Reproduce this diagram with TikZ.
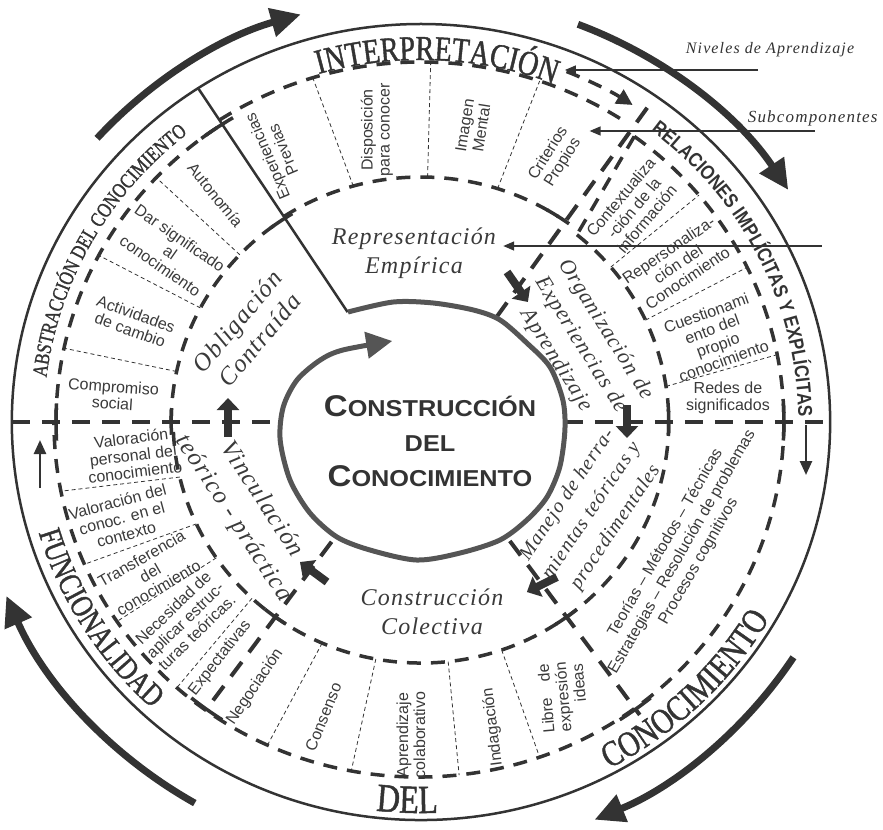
\documentclass[tikz,border=0pt]{standalone}
\usepackage{fontspec}
\setmainfont{Liberation Serif}
\setsansfont{Liberation Sans}
\newfontfamily\capserif[FakeStretch=0.8, FakeBold=1.2]{Liberation Serif}
\newfontfamily\relfont[FakeStretch=0.85]{Liberation Sans Bold}
\newfontfamily\corefont[FakeStretch=1.1]{Liberation Sans Bold}
\newfontfamily\quadfont[LetterSpace=5]{Liberation Serif}
\newfontfamily\notefont[LetterSpace=7]{Liberation Serif}
\usetikzlibrary{arrows.meta,decorations.text}
\definecolor{dk}{HTML}{333333}
\definecolor{md}{HTML}{3A3A3A}
\definecolor{ring}{HTML}{555555}

\begin{document}
\begin{tikzpicture}[x=1.028pt, y=1pt,
	frame/.style={dk, line width=2.5pt},
	boxarc/.style={dk, line width=3.5pt, dash pattern=on 14pt off 10pt},
	divider/.style={dk, line width=4pt, dash pattern=on 18pt off 12pt},
	sep/.style={dk, line width=0.8pt, dash pattern=on 4pt off 3pt},
	tickmark/.style={dk, line width=3.5pt},
	flowarrow/.style={dk, line width=8pt, -{Triangle[length=12pt,width=22pt]}},
	bigarrow/.style={dk, line width=7pt, -{Triangle[length=30pt,width=28pt]}},
	smallarrow/.style={dk, line width=2.5pt, -{Triangle[length=14pt,width=12pt]}},
	noteline/.style={dk, line width=1.5pt, -{Triangle[length=11pt,width=9pt]}},
	spiral/.style={ring, line width=5pt, -{Triangle[length=26pt,width=26pt]}},
	subtext/.style={font=\sffamily\fontsize{16}{17}\selectfont, text=md, align=center, inner sep=0pt},
	quadtext/.style={font=\quadfont\itshape\fontsize{#1}{29}\selectfont, text=md, align=center, inner sep=0pt},
	notetext/.style={font=\notefont\itshape\fontsize{#1}{#1}\selectfont, text=dk, inner sep=0pt},
	coretext/.style={font=\corefont\fontsize{23}{35}\selectfont, text=dk, align=center, inner sep=0pt}]
			\useasboundingbox (-409.5,-407) rectangle (449.4,422);
			\draw[frame] (0,0) circle[radius=398];
			\draw[bigarrow] (138:424) arc[start angle=138, end angle=106, radius=424];
			\draw[bigarrow] (69:426) arc[start angle=69, end angle=33, radius=426];
			\draw[bigarrow] (-33:432) arc[start angle=-33, end angle=-67, radius=432];
			\draw[bigarrow] (-120:440) arc[start angle=-120, end angle=-157, radius=436];
			\draw[frame] (123:131) -- (123:398);
			\draw[divider] (55:128) -- (55:393);
			\draw[divider] (-54:147) -- (-54:362);
			\draw[divider] (-126:148) -- (-126:356);
			\draw[divider] (-398,0) -- (-137,0);
			\draw[divider] (140,0) -- (398,0);
			\draw[boxarc] (180:355) arc[start angle=180, end angle=124, radius=355];
			\draw[boxarc] (180:243) arc[start angle=180, end angle=124, radius=243];
			\draw[boxarc] (123:360) arc[start angle=123, end angle=57, radius=360];
			\draw[boxarc] (123:245) arc[start angle=123, end angle=57, radius=245];
			\draw[boxarc] (54:353) arc[start angle=54, end angle=0, radius=353];
			\draw[boxarc] (51:241) arc[start angle=51, end angle=0, radius=241];
			\draw[boxarc] (54:353) -- (51:241);
			\draw[boxarc] (0:353) arc[start angle=0, end angle=-180, radius=355];
			\draw[boxarc] (0:241) arc[start angle=0, end angle=-180, radius=241];
			\draw[boxarc, -{Triangle[length=16pt,width=16pt]}] (68:378) arc[start angle=68, end angle=57, radius=378];
			\draw[tickmark] (183:355) arc[start angle=183, end angle=177, radius=355];
			\draw[tickmark] (183:243) arc[start angle=183, end angle=177, radius=243];
			\draw[tickmark] (127:355) arc[start angle=127, end angle=121, radius=355];
			\draw[tickmark] (127:243) arc[start angle=127, end angle=121, radius=243];
			\draw[tickmark] (60:245) arc[start angle=60, end angle=54, radius=245];
			\draw[tickmark] (3:353) arc[start angle=3, end angle=-3, radius=353];
			\draw[tickmark] (3:241) arc[start angle=3, end angle=-3, radius=241];
			\draw[tickmark] (-51:355) arc[start angle=-51, end angle=-57, radius=355];
			\draw[tickmark] (-51:241) arc[start angle=-51, end angle=-57, radius=241];
			\draw[tickmark] (-123:355) arc[start angle=-123, end angle=-129, radius=355];
			\draw[tickmark] (-123:241) arc[start angle=-123, end angle=-129, radius=241];
			\draw[sep] (168:243) -- (168:355);
			\draw[sep] (152:243) -- (152:355);
			\draw[sep] (136.5:243) -- (136.5:355);
			\draw[sep] (105.6:245) -- (107:360);
			\draw[sep] (88.5:245) -- (88.5:360);
			\draw[sep] (72.3:245) -- (71.3:360);
			\draw[sep] (40:241) -- (40:353);
			\draw[sep] (25:241) -- (26:353);
			\draw[sep] (8.5:241) -- (11:353);
			\draw[sep] (-71:241) -- (-71:355);
			\draw[sep] (-83.7:241) -- (-84:355);
			\draw[sep] (-100.5:241) -- (-101:355);
			\draw[sep] (-113.5:241) -- (-114.8:355);
			\draw[sep] (-166.8:241) -- (-168.8:355);
			\draw[sep] (-155:241) -- (-156.5:355);
			\draw[sep] (-145.7:241) -- (-146:355);
			\draw[sep] (-133:241) -- (-131.8:355);
			\draw[flowarrow] (-187.7,-15) -- (-187.7,24);
			\draw[flowarrow] (83.7,150) -- (104,120);
			\draw[flowarrow] (200.4,17) -- (200.4,-16);
			\draw[flowarrow] (132.3,-155) -- (103,-170);
			\draw[flowarrow] (-91.4,-160) -- (-117.7,-140);
			\draw[spiral] plot[smooth] coordinates {(-71,110) (-27,120) (12,119) (51,112) (77,102) (103,79) (125.5,55) (138,22) (140,-8) (135,-45) (122.6,-75) (103,-98) (76.8,-118) (38,-131) (-4,-138) (-49.6,-128) (-81.7,-115) (-108,-91) (-127.4,-58) (-137,-18) (-134,15) (-120.6,42) (-98,62) (-76,72) (-28,81)};
			\path[decorate, decoration={text along path, text align=center, text={|\capserif\fontsize{35}{35}\selectfont\color{dk}|INTERPRETACIÓN}}] (115.5:362) arc[start angle=115.5, end angle=59.5, radius=362];
			\path[decorate, decoration={text along path, text align=center, text={|\capserif\fontsize{21}{21}\selectfont\color{dk}|ABSTRACCIÓN DEL CONOCIMIENTO}}] (185.75:367) arc[start angle=185.75, end angle=115.75, radius=367];
			\path[decorate, decoration={text along path, text align=center, text={|\relfont\fontsize{20}{20}\selectfont\color{dk}|RELACIONES IMPLÍCITAS Y EXPLÍCITAS}}] (66.5:367) arc[start angle=66.5, end angle=-13.5, radius=367];
			\path[decorate, decoration={text along path, text align=center, text={|\capserif\fontsize{36}{36}\selectfont\color{dk}|CONOCIMIENTO}}] (-76:392) arc[start angle=-76, end angle=-16, radius=392];
			\path[decorate, decoration={text along path, text align=center, text={|\capserif\fontsize{40}{40}\selectfont\color{dk}|DEL}}] (-102:391) arc[start angle=-102, end angle=-82, radius=391];
			\path[decorate, decoration={text along path, text align=center, text={|\capserif\fontsize{32}{32}\selectfont\color{dk}|FUNCIONALIDAD}}] (-175:388) arc[start angle=-175, end angle=-121, radius=388];
			\node[coretext] (core) at (8.8,-19) {{\fontsize{30}{30}\selectfont C}ONSTRUCCIÓN\\DEL\\{\fontsize{30}{30}\selectfont C}ONOCIMIENTO};
			\node[quadtext=24] (empirica) at (-6.8,169) {Representación\\Empírica};
			\node[quadtext=25, rotate=50] (obligacion) at (-168,91.5) {Obligación\\Contraída};
			\node[quadtext=22, rotate=-58] (organizacion) at (155.6,77) {Organización de\\Experiencias de\\Aprendizaje};
			\node[quadtext=20, rotate=56] (manejo) at (166,-89) {Manejo de herra-\\mientas teóricas y\\procedimentales};
			\node[quadtext=24] (colectiva) at (10.7,-190) {Construcción\\Colectiva};
			\node[quadtext=25, rotate=-57, font=\quadfont\itshape\fontsize{25}{34}\selectfont] (vinculacion) at (-168.8,-87) {Vinculación\\teórico - práctica};
			\node[subtext, rotate=-4] (compromiso) at (-299.6,27) {Compromiso\\social};
			\node[subtext, rotate=-20] (actividades) at (-280,100) {Actividades\\de cambio};
			\node[subtext, rotate=-35] (significado) at (-244,170) {Dar significado\\al\\conocimiento};
			\node[subtext, rotate=-51] (autonomia) at (-200,227) {Autonomía};
			\node[subtext, rotate=113] (previas) at (-142,269) {Experiencias\\Previas};
			\node[subtext, rotate=90] (disposicion) at (-42.8,292) {Disposición\\para conocer};
			\node[subtext, rotate=81] (imagen) at (50.6,295) {Imagen\\Mental};
			\node[subtext, rotate=58] (criterios) at (131,264) {Criterios\\Propios};
			\node[subtext, rotate=50] (contexto) at (207,214) {Contextualiza\\-ción de la\\información};
			\node[subtext, rotate=34] (repersonal) at (250,158) {Repersonaliza-\\ción del\\Conocimiento};
			\node[subtext, rotate=20] (cuestion) at (286,85) {Cuestionami\\ento del\\propio\\conocimiento};
			\node[subtext] (redes) at (298.6,24) {Redes de\\significados};
			\node[subtext, rotate=60, font=\sffamily\fontsize{16}{19}\selectfont] (teorias) at (254,-130) {Teorías – Métodos – Técnicas\\Estrategias – Resolución de problemas\\Procesos cognitivos};
			\node[subtext, rotate=95] (libre) at (138,-275) {Libre\quad de\\expresión\\\hspace*{1.6em}ideas};
			\node[subtext, rotate=97] (indagacion) at (70,-305) {Indagación};
			\node[subtext, rotate=90] (aprendizaje) at (-9.7,-313) {Aprendizaje\\colaborativo};
			\node[subtext, rotate=68] (consenso) at (-95,-295) {Consenso};
			\node[subtext, rotate=56] (negociacion) at (-161.5,-265) {Negociación};
			\node[subtext, rotate=52] (expectativas) at (-195.5,-236) {Expectativas};
			\node[subtext, rotate=44] (necesidad) at (-229.6,-198) {Necesidad de\\aplicar estruc-\\turas teóricas.};
			\node[subtext, rotate=30] (transferencia) at (-263.6,-151) {Transferencia\\del\\conocimiento};
			\node[subtext, rotate=15] (valconoc) at (-291,-96) {Valoración del\\conoc. en el\\contexto};
			\node[subtext, rotate=7] (valpersonal) at (-280,-33) {Valoración\\personal del\\conocimiento};
			\node[notetext=16] (niveles) at (339.5,372) {Niveles de Aprendizaje};
			\node[notetext=17] (subcomp) at (381,304) {Subcomponentes};
			\coordinate (niv-a) at (328,352);
			\coordinate (niv-b) at (140,352);
			\coordinate (sub-a) at (383,291);
			\coordinate (sub-b) at (164,291);
			\coordinate (comp-a) at (390,176);
			\coordinate (comp-b) at (80,176);
			\coordinate (up-a) at (-370.6,-66);
			\coordinate (up-b) at (-370.6,-18);
			\coordinate (dn-a) at (374.5,-3);
			\coordinate (dn-b) at (374.5,-53);
			\draw[noteline] (niv-a) -- (niv-b);
			\draw[noteline] (sub-a) -- (sub-b);
			\draw[noteline] (comp-a) -- (comp-b);
			\draw[smallarrow] (up-a) -- (up-b);
			\draw[smallarrow] (dn-a) -- (dn-b);
		\end{tikzpicture}
\end{document}
